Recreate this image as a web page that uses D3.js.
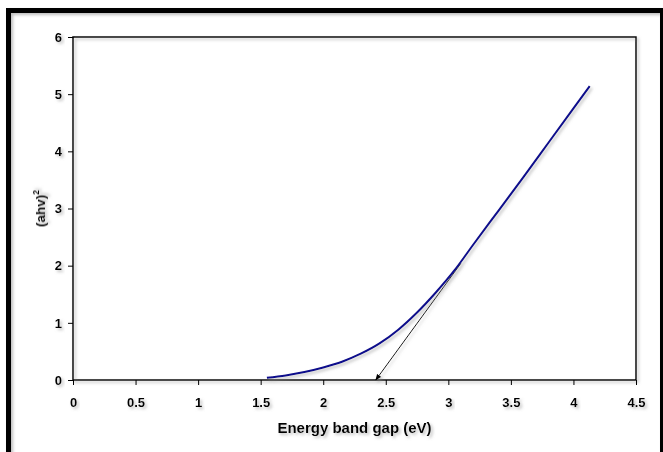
<!DOCTYPE html>
<html><head><meta charset="utf-8">
<script src="https://cdn.jsdelivr.net/npm/d3@7"></script>
<style>body{margin:0;background:#fff;} svg{display:block;}</style>
</head><body>
<svg id="c" width="663" height="452"></svg>
<script>
const energy = [1.55,1.7,1.85,2.0,2.15,2.3,2.45,2.6,2.75,2.9,3.05,3.2,3.4,3.6,3.8,4.0,4.13];
const ahv2   = [0.04,0.08,0.14,0.22,0.32,0.46,0.64,0.88,1.18,1.53,1.92,2.37,2.96,3.55,4.15,4.75,5.14];
const tangentX = [3.1, 2.42];
const tangentY = [2.04, 0.0];
const xTicks = [0,0.5,1,1.5,2,2.5,3,3.5,4,4.5];
const yTicks = [0,1,2,3,4,5,6];
const xTitle = "Energy band gap (eV)";

const svg = d3.select("#c");
const defs = svg.append("defs");
const f = defs.append("filter").attr("id","sh").attr("x","-20%").attr("y","-20%").attr("width","150%").attr("height","150%");
f.append("feDropShadow").attr("dx",2).attr("dy",2).attr("stdDeviation",1.4).attr("flood-color","#888").attr("flood-opacity",0.55);
defs.append("marker").attr("id","arr").attr("viewBox","0 0 10 10").attr("refX",9).attr("refY",5)
  .attr("markerWidth",7).attr("markerHeight",7).attr("orient","auto")
  .append("path").attr("d","M0,1 L10,5 L0,9 Z").attr("fill","#000");

// outer frame
svg.append("rect").attr("x",8.5).attr("y",10.5).attr("width",654).attr("height",460)
  .attr("fill","none").attr("stroke","#000").attr("stroke-width",5).attr("filter","url(#sh)");

const L=73,R=636,T=37,B=380;
const x = d3.scaleLinear().domain([0,4.5]).range([L,R]);
const y = d3.scaleLinear().domain([0,6]).range([B,T]);

const g = svg.append("g");
g.append("rect").attr("x",L).attr("y",T).attr("width",R-L).attr("height",B-T)
  .attr("fill","none").attr("stroke","#000").attr("stroke-width",1.5).attr("filter","url(#sh)");

const font = "'Liberation Sans', Arial, sans-serif";
const xa = g.append("g").attr("transform",`translate(0,${B})`)
  .call(d3.axisBottom(x).tickValues(xTicks).tickSize(5).tickPadding(13).tickFormat(d=>String(d)));
const ya = g.append("g").attr("transform",`translate(${L},0)`)
  .call(d3.axisLeft(y).tickValues(yTicks).tickSize(5).tickPadding(6).tickFormat(d=>String(d)));
[xa,ya].forEach(a=>{
  a.select(".domain").remove();
  a.selectAll("line").attr("stroke","#000").attr("stroke-width",1);
  a.selectAll("text").attr("font-family",font).attr("font-weight","bold").attr("font-size",13).attr("fill","#000").attr("filter","url(#sh)");
});

svg.append("text").attr("x",(L+R)/2).attr("y",433).attr("text-anchor","middle")
  .attr("font-family",font).attr("font-weight","bold").attr("font-size",15).attr("filter","url(#sh)").text(xTitle);
const yt = svg.append("text").attr("transform",`translate(45,${(T+B)/2}) rotate(-90)`).attr("text-anchor","middle")
  .attr("font-family",font).attr("font-weight","bold").attr("font-size",13.5).attr("filter","url(#sh)");
yt.append("tspan").text("(ahv)");
yt.append("tspan").attr("font-size",8.5).attr("dy",-6).text("2");

// tangent arrow
const tl = d3.line().x(d=>x(d[0])).y(d=>y(d[1]));
g.append("path").attr("d",tl(d3.zip(tangentX,tangentY))).attr("fill","none").attr("stroke","#000")
  .attr("stroke-width",0.9).attr("marker-end","url(#arr)").attr("filter","url(#sh)");

// curve
const line = d3.line().x(d=>x(d[0])).y(d=>y(d[1])).curve(d3.curveMonotoneX);
g.append("path").attr("d",line(d3.zip(energy,ahv2))).attr("fill","none").attr("stroke","#0a0a8c")
  .attr("stroke-width",2).attr("filter","url(#sh)");
</script>
</body></html>
